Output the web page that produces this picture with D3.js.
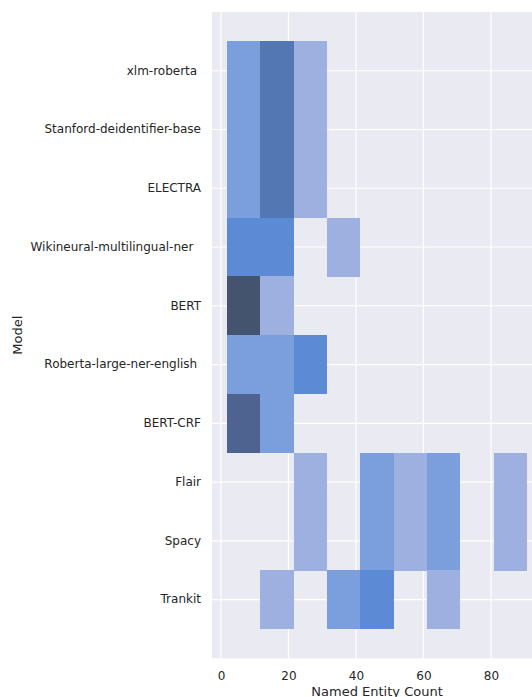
<!DOCTYPE html>
<html>
<head>
<meta charset="utf-8">
<script src="https://cdn.jsdelivr.net/npm/d3@7"></script>
<style>
  body { margin: 0; background: #fff; }
  svg text { font-family: "DejaVu Sans", sans-serif; fill: #262626; white-space: pre; }
</style>
</head>
<body>
<svg id="chart" width="532" height="697"></svg>
<script>
// models, top to bottom (some labels carry trailing spaces in the original)
const models = [
  "xlm-roberta ",
  "Stanford-deidentifier-base",
  "ELECTRA",
  "Wikineural-multilingual-ner  ",
  "BERT",
  "Roberta-large-ner-english ",
  "BERT-CRF",
  "Flair",
  "Spacy",
  "Trankit"
];

// histogram bins of named entity count
const binStart = 1.8;
const binWidth = 9.88;

// count per bin, one row per model
const counts = [
  [2, 4, 1, 0, 0, 0, 0, 0, 0],
  [2, 4, 1, 0, 0, 0, 0, 0, 0],
  [2, 4, 1, 0, 0, 0, 0, 0, 0],
  [3, 3, 0, 1, 0, 0, 0, 0, 0],
  [6, 1, 0, 0, 0, 0, 0, 0, 0],
  [2, 2, 3, 0, 0, 0, 0, 0, 0],
  [5, 2, 0, 0, 0, 0, 0, 0, 0],
  [0, 0, 1, 0, 2, 1, 2, 0, 1],
  [0, 0, 1, 0, 2, 1, 2, 0, 1],
  [0, 1, 0, 2, 3, 0, 1, 0, 0]
];

const xTicks = [0, 20, 40, 60, 80];

// colour per count level 1..6
const countLevels = [1, 2, 3, 4, 5, 6];
const countColors = ["#9eb0e0", "#7b9fdc", "#5d8ad4", "#5377b2", "#4e638f", "#44536e"];

const svg = d3.select('#chart');
const margin = { top: 12, left: 212 };
const plotBottom = 658.3;
const plotRight = 542.1;

const x = d3.scaleLinear()
  .domain([-2.65, 95.15])
  .range([margin.left, plotRight]);

const y = d3.scaleBand()
  .domain(models)
  .range([margin.top, plotBottom])
  .paddingInner(0)
  .paddingOuter(0.5);

const color = d3.scaleLinear()
  .domain(countLevels)
  .range(countColors);

// background
svg.append('rect')
  .attr('x', margin.left)
  .attr('y', margin.top)
  .attr('width', plotRight - margin.left)
  .attr('height', plotBottom - margin.top)
  .attr('fill', '#eaeaf2');

// grid
svg.append('g')
  .selectAll('line')
  .data(xTicks)
  .enter().append('line')
  .attr('x1', d => x(d)).attr('x2', d => x(d))
  .attr('y1', margin.top).attr('y2', plotBottom)
  .attr('stroke', '#fff').attr('stroke-width', 1.2);

svg.append('g')
  .selectAll('line')
  .data(models)
  .enter().append('line')
  .attr('x1', margin.left).attr('x2', plotRight)
  .attr('y1', d => y(d) + y.bandwidth() / 2)
  .attr('y2', d => y(d) + y.bandwidth() / 2)
  .attr('stroke', '#fff').attr('stroke-width', 1.2);

// cells
const cells = [];
counts.forEach(function (row, i) {
  row.forEach(function (c, j) {
    if (c > 0) cells.push({ model: models[i], bin: j, count: c });
  });
});

svg.append('g')
  .attr('shape-rendering', 'crispEdges')
  .selectAll('rect')
  .data(cells)
  .enter().append('rect')
  .attr('x', d => x(binStart + d.bin * binWidth))
  .attr('width', d => x(binStart + (d.bin + 1) * binWidth) - x(binStart + d.bin * binWidth))
  .attr('y', d => y(d.model))
  .attr('height', y.bandwidth() + 0.5)
  .attr('fill', d => color(d.count));

// axes
const xAxis = svg.append('g')
  .attr('transform', 'translate(0,' + plotBottom + ')')
  .call(d3.axisBottom(x).tickValues(xTicks).tickSize(0).tickPadding(13));
xAxis.select('.domain').remove();
xAxis.selectAll('text')
  .style('font-family', '"DejaVu Sans", sans-serif')
  .style('font-size', '12px')
  .attr('fill', '#262626');

const yAxis = svg.append('g')
  .attr('transform', 'translate(' + margin.left + ',0)')
  .call(d3.axisLeft(y).tickSize(0).tickPadding(11));
yAxis.select('.domain').remove();
yAxis.selectAll('text')
  .style('font-family', '"DejaVu Sans", sans-serif')
  .style('font-size', '12px')
  .style('white-space', 'pre')
  .attr('fill', '#262626');

// labels
svg.append('text')
  .attr('x', (margin.left + plotRight) / 2)
  .attr('y', 695.5)
  .attr('text-anchor', 'middle')
  .style('font-size', '13px')
  .text('Named Entity Count');

svg.append('text')
  .attr('transform', 'translate(22,' + (margin.top + plotBottom) / 2 + ') rotate(-90)')
  .attr('text-anchor', 'middle')
  .style('font-size', '13px')
  .text('Model');
</script>
</body>
</html>
